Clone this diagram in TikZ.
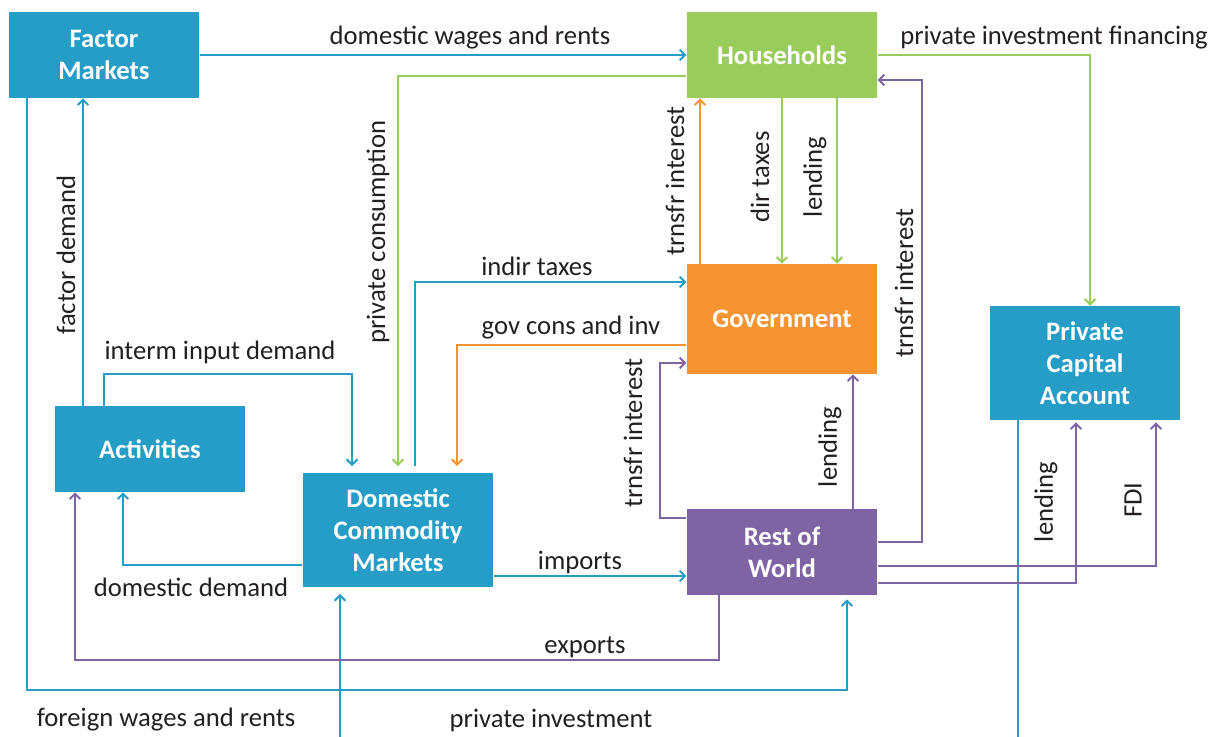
\documentclass[tikz,border=0pt]{standalone}
\usepackage{fontspec}
\setmainfont{Carlito}
\usetikzlibrary{arrows.meta}

\definecolor{flowblue}{RGB}{38,157,198}
\definecolor{flowgreen}{RGB}{153,204,90}
\definecolor{floworange}{RGB}{247,148,50}
\definecolor{flowpurple}{RGB}{127,100,164}
\definecolor{labelgray}{RGB}{35,31,32}

\tikzset{
	box/.style={minimum width=143pt, minimum height=64.5pt, inner sep=2pt, align=center, text=white, font=\fontsize{20}{24}\selectfont\bfseries},
	flow/.style={line width=1.5pt, -{Straight Barb[length=4pt,width=8pt]}},
	lbl/.style={text=labelgray, inner sep=1pt, font=\fontsize{20}{24}\selectfont},
}

\begin{document}
\begin{tikzpicture}[x=0.75pt,y=-0.75pt]
	\useasboundingbox (0,0) rectangle (1217,736);
	\clip (0,0) rectangle (1217,736);
	% accounts
	\node[box, fill=flowblue] (fm) at (104,55) {Factor\\Markets};
	\node[box, fill=flowgreen] (hh) at (782,55) {Households};
	\node[box, fill=floworange, minimum height=82.5pt] (gov) at (782,319) {Government};
	\node[box, fill=flowblue, minimum height=85.5pt] (pca) at (1085,363) {Private\\Capital\\Account};
	\node[box, fill=flowblue] (act) at (150,449) {Activities};
	\node[box, fill=flowblue, minimum height=85.5pt] (dcm) at (398,530) {Domestic\\Commodity\\Markets};
	\node[box, fill=flowpurple] (row) at (782,552) {Rest of\\World};

	% blue flows
	\draw[flow, flowblue] (fm.east) -- (hh.west);
	\draw[flow, flowblue, shorten <=5pt] (dcm.north -| 415,0) |- (gov.west |- 0,282);
	\draw[flow, flowblue, shorten >=5pt] (act.north -| 104,0) |- (352,374) -- (dcm.north -| 352,0);
	\draw[flow, flowblue] (act.north -| 83,0) -- (fm.south -| 83,0);
	\draw[flow, flowblue, shorten >=3pt] (fm.south -| 27,0) -- (27,690) -| (row.south -| 847,0);
	\draw[flow, flowblue] (dcm.west |- 0,565) -| (act.south -| 123,0);
	\draw[flow, flowblue] (dcm.east |- 0,576) -- (row.west |- 0,576);
	\draw[flow, flowblue, shorten >=5pt] (pca.south -| 1018,0) -- (1018,780) -| (dcm.south -| 340,0);

	% green flows
	\draw[flow, flowgreen, shorten >=5pt] (hh.west |- 0,76) -| (dcm.north);
	\draw[flow, flowgreen] (hh.south) -- (gov.north);
	\draw[flow, flowgreen] (hh.south -| 837,0) -- (gov.north -| 837,0);
	\draw[flow, flowgreen] (hh.east) -| (pca.north -| 1090,0);

	% orange flows
	\draw[flow, floworange, shorten >=5pt] (gov.west |- 0,345) -| (dcm.north -| 457,0);
	\draw[flow, floworange] (gov.north -| 700,0) -- (hh.south -| 700,0);

	% purple flows
	\draw[flow, flowpurple] (row.south -| 719,0) -- (719,660) -| (act.south -| 75,0);
	\draw[flow, flowpurple] (row.east |- 0,542) -| (922,80) -- (hh.east |- 0,80);
	\draw[flow, flowpurple] (row.west |- 0,518) -| (660,363) -- (gov.west |- 0,363);
	\draw[flow, flowpurple] (row.north -| 853,0) -- (gov.south -| 853,0);
	\draw[flow, flowpurple, shorten >=1.5pt] (row.east |- 0,566) -| (pca.south -| 1156,0);
	\draw[flow, flowpurple, shorten >=1.5pt] (row.east |- 0,583) -| (pca.south -| 1076,0);

	% labels
	\node[lbl] (lwages) at (470,38) {domestic wages and rents};
	\node[lbl] (lfin) at (1054,38) {private investment financing};
	\node[lbl, rotate=90] (lcons) at (378,232) {private consumption};
	\node[lbl, rotate=90] (lfdem) at (66,255) {factor demand};
	\node[lbl] (linterm) at (220,352) {interm input demand};
	\node[lbl] (lindir) at (537,266) {indir taxes};
	\node[lbl] (lgovc) at (571,328) {gov cons and inv};
	\node[lbl, rotate=90] (ltrhh) at (675,181) {trnsfr interest};
	\node[lbl, rotate=90] (ldir) at (760,177) {dir taxes};
	\node[lbl, rotate=90] (llendhh) at (815,177) {lending};
	\node[lbl, rotate=90] (ltrrow) at (904,283) {trnsfr interest};
	\node[lbl, rotate=90] (ltrgov) at (633,433) {trnsfr interest};
	\node[lbl, rotate=90] (llendgov) at (830,447) {lending};
	\node[lbl, rotate=90] (llendpca) at (1046,502) {lending};
	\node[lbl, rotate=90] (lfdi) at (1133,500) {FDI};
	\node[lbl] (limp) at (580,562) {imports};
	\node[lbl] (ldom) at (191,587) {domestic demand};
	\node[lbl] (lexp) at (585,647) {exports};
	\node[lbl] (lforeign) at (166,720) {foreign wages and rents};
	\node[lbl] (lpinv) at (551,720) {private investment};
\end{tikzpicture}
\end{document}
